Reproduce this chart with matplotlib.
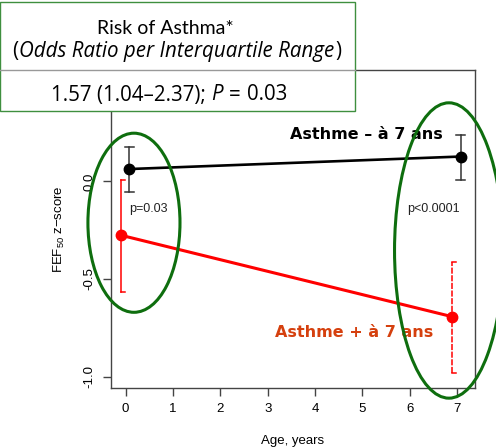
import matplotlib
matplotlib.use("Agg")
import matplotlib.pyplot as plt
from matplotlib.patches import Ellipse, Rectangle
from matplotlib.lines import Line2D

plt.rcParams['font.family'] = ['Liberation Sans', 'DejaVu Sans']
plt.rcParams['mathtext.fontset'] = 'custom'
plt.rcParams['mathtext.rm'] = 'Liberation Sans'

# ---- data ----
ages = [0, 7]
x_ticks = [0, 1, 2, 3, 4, 5, 6, 7]
y_ticks = [-1.0, -0.5, 0.0]
y_ticklabels = ["-1.0", "-0.5", "0.0"]

neg_mean = [0.063, 0.127]     # Asthme - à 7 ans
neg_lo = [-0.054, 0.005]
neg_hi = [0.175, 0.238]

pos_mean = [-0.276, -0.693]   # Asthme + à 7 ans
pos_lo = [-0.565, -0.98]
pos_hi = [0.005, -0.412]

p_labels = ["p=0.03", "p<0.0001"]
neg_label = "Asthme \u2013 à 7 ans"
pos_label = "Asthme + à 7 ans"

W, H = 496, 448
fig = plt.figure(figsize=(W / 100, H / 100), dpi=100)
ax = fig.add_axes([111 / W, 1 - 388 / H, (475 - 111) / W, (388 - 70) / H])
ax.set_xlim(-0.31, 7.38)
ax.set_ylim(-1.058, 0.57)

neg_x = [a + 0.08 for a in ages]
pos_x = [a - 0.1 for a in ages]

# black series
ax.plot(neg_x, neg_mean, color='black', lw=1.9, zorder=3)
for x, lo, hi in zip(neg_x, neg_lo, neg_hi):
    ax.plot([x, x], [lo, hi], color='#333333', lw=1.1, zorder=2)
    for yv in (lo, hi):
        ax.plot([x - 0.095, x + 0.095], [yv, yv], color='#333333', lw=1.1, zorder=2)
ax.plot(neg_x, neg_mean, 'o', color='black', ms=7.5, zorder=4)

# red series
ax.plot(pos_x, pos_mean, color='red', lw=2.2, zorder=3)
styles = ['-', (0, (4, 1))]
for x, lo, hi, ls in zip(pos_x, pos_lo, pos_hi, styles):
    ax.plot([x, x], [lo, hi], color='red', lw=1.1, ls=ls, zorder=2)
    for yv in (lo, hi):
        ax.plot([x, x + 0.08], [yv, yv], color='red', lw=1.1, zorder=2)
ax.plot(pos_x, pos_mean, 'o', color='red', ms=7.5, zorder=4)

# annotations
ax.text(0.07, -0.143, p_labels[0], fontsize=9, ha='left', va='center', color='#222222')
ax.text(5.95, -0.143, p_labels[1], fontsize=9, ha='left', va='center', color='#222222')
ax.text(6.69, 0.239, neg_label, fontsize=11.5, fontweight='bold', ha='right', va='center',
        color='black', family='DejaVu Sans', zorder=5)
ax.text(6.50, -0.774, pos_label, fontsize=11.5, fontweight='bold', ha='right', va='center',
        color='#d5400e', family='DejaVu Sans', zorder=5)

# ellipses
green = '#0e6e0e'
ax.add_patch(Ellipse((0.175, -0.212), 1.945, 0.917, fill=False, ec=green, lw=2.2,
                     clip_on=False, zorder=6))
ax.add_patch(Ellipse((6.83, -0.354), 2.3, 1.512, fill=False, ec=green, lw=2.2,
                     clip_on=False, zorder=6))

# axes styling (R-like)
for s in ax.spines.values():
    s.set_color('#444444')
    s.set_linewidth(1.0)
ax.set_xticks(x_ticks)
ax.set_xticklabels([str(t) for t in x_ticks], fontsize=9.5)
ax.set_yticks(y_ticks)
ax.set_yticklabels(y_ticklabels, fontsize=9.5, rotation=90, va='center')
ax.tick_params(direction='out', length=6, width=1, color='#444444', pad=5)
ax.set_xlabel("Age, years", fontsize=9.5, labelpad=14)
ax.set_ylabel("FEF$_{50}$ z\u2212score", fontsize=9.5, labelpad=12)

# title box
box_g = '#3f8f3f'
fig.add_artist(Rectangle((0, 1 - 111 / H), 355 / W, 109 / H, transform=fig.transFigure,
                         facecolor='white', edgecolor=box_g, lw=1.0, zorder=10))
fig.add_artist(Line2D([0, 355 / W], [1 - 70 / H, 1 - 70 / H], transform=fig.transFigure,
                      color='#999999', lw=1.0, zorder=11))

FS = 14.8
fig.text(165 / W, 1 - 28 / H, "Risk of Asthma*", fontsize=14, family='Lato',
         ha='center', va='center', zorder=12)


def row(pieces, cx_px, cy_px):
    """Lay out text pieces [(text, style, family, gap_px)] centred at (cx_px, cy_px)."""
    renderer = fig.canvas.get_renderer()
    arts = []
    for s, st, fam, gap in pieces:
        t = fig.text(0, 1 - cy_px / H, s, fontsize=FS, family=fam, style=st,
                     ha='left', va='center', zorder=12)
        arts.append((t, gap))
    widths = [a.get_window_extent(renderer).width + g for a, g in arts]
    x = cx_px - sum(widths) / 2
    for (a, g), w in zip(arts, widths):
        a.set_x((x + g) / W)
        x += w


row([("(", 'normal', 'Open Sans', 0),
     ("Odds Ratio per Interquartile Range", 'italic', 'Open Sans', 1),
     (")", 'normal', 'Open Sans', 1)], 177, 52)
row([("1.57 (1.04–2.37);", 'normal', 'Open Sans', 0),
     ("P", 'italic', 'Open Sans', 6),
     ("=", 'normal', 'Open Sans', 6),
     ("0.03", 'normal', 'Open Sans', 6)], 169, 95)

fig.savefig("out.png", dpi=100)
